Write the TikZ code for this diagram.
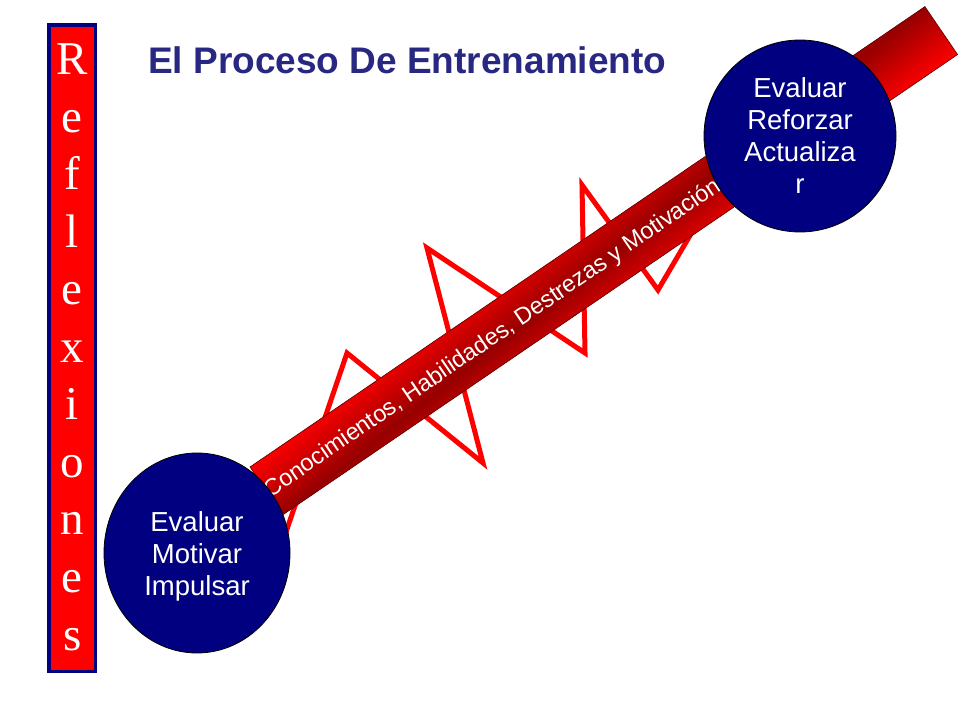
\documentclass[tikz,border=0pt]{standalone}
\usepackage{fontspec}
\setmainfont{Liberation Sans}
\newfontfamily\timesfont{Liberation Serif}
\usetikzlibrary{shapes.geometric}
\definecolor{navyc}{RGB}{0,0,128}
\definecolor{titleblue}{RGB}{40,40,130}
\definecolor{bardark}{RGB}{150,0,0}
\definecolor{baredge}{RGB}{90,0,0}
\begin{document}
\begin{tikzpicture}[x=1pt,y=1pt,
  circ/.style={fill=navyc, draw=black, line width=0.8pt, inner sep=0pt},
  circtext/.style={text=white, font=\fontsize{27.5}{32}\selectfont, align=center, inner sep=0pt},
  zig/.style={draw=red, line width=5pt, line join=miter},
  letter/.style={text=white, font=\timesfont\fontsize{47}{47}\selectfont, anchor=base, inner sep=0pt}]
\useasboundingbox (0,0) rectangle (960,720);
\fill[white] (0,0) rectangle (960,720);

% Reflexiones column
\node[draw=navyc, fill=red, line width=3.3pt, minimum width=46.6pt, minimum height=646.4pt, inner sep=0pt] (refbox) at (72.3,371.9) {};
\foreach \ch [count=\i from 0] in {R,e,f,l,e,x,i,o,n,e,s}
  \node[letter] (L\i) at (72.3, 645-57.5*\i) {\ch};

% title
\node[anchor=base west, inner sep=0pt, text=titleblue, font=\bfseries\fontsize{37}{37}\selectfont] (title) at (148,646.7) {El Proceso De Entrenamiento};

% zigzag
\coordinate (z0) at (285,185);
\coordinate (z1) at (347,367);
\coordinate (z2) at (483,257);
\coordinate (z3) at (427,472);
\coordinate (z4) at (585,367);
\coordinate (z5) at (582,535);
\coordinate (z6) at (658,430);
\coordinate (z7) at (712,522);
\draw[zig] (z0) -- (z1) -- (z2) -- (z3) -- (z4) -- (z5) -- (z6) -- (z7);

% bar
\begin{scope}[shift={(282.7,205.1)}, rotate=34.3]
  \begin{scope}
    \clip (0,0) rectangle (817,58);
    \foreach \k in {0,...,46} {
      \pgfmathsetmacro\dA{-58+2.5*\k}
      \pgfmathsetmacro\dB{\dA+3.5}
      \pgfmathsetmacro\pc{min(100,abs(\dA+1.25)/58*100)}
      \fill[color=red!\pc!bardark] (0,\dA) -- (817,58+\dA) -- (817,58+\dB) -- (0,\dB) -- cycle;
    }
  \end{scope}
  \draw[baredge, line width=0.6pt] (0,0) rectangle (817,58);
  \node[transform shape, anchor=base west, inner sep=0pt, text=white, font=\fontsize{23.5}{23.5}\selectfont] (bartext) at (-1,21) {Conocimientos, Habilidades, Destrezas y Motivación};
\end{scope}

% circles
\node[circ, ellipse, minimum width=186pt, minimum height=200pt] (c1) at (197,167) {};
\node[circtext] (t1) at (197,164) {Evaluar\\Motivar\\Impulsar};
\node[circ, circle, minimum size=192pt] (c2) at (800,584) {};
\node[circtext] (t2) at (800,584.3) {Evaluar\\Reforzar\\Actualiza\\r};
\end{tikzpicture}
\end{document}
